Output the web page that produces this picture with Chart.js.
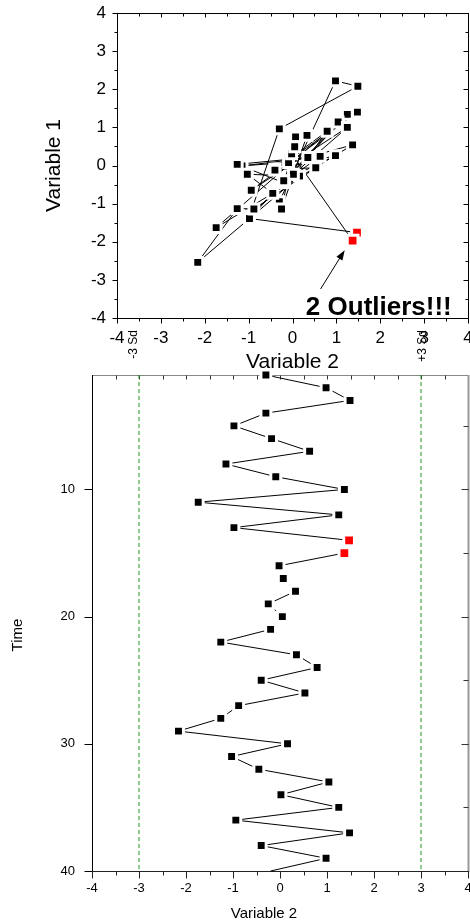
<!DOCTYPE html>
<html>
<head>
<meta charset="utf-8">
<script src="https://cdn.jsdelivr.net/npm/chart.js@4"></script>
<style>
  html, body { margin: 0; padding: 0; background: #fff; }
  #wrap { position: relative; width: 470px; height: 922px; overflow: hidden; }
  .box { position: absolute; left: 0; width: 470px; }
  #top-box { top: 0; height: 380px; }
  #bottom-box { top: 320px; height: 602px; }
</style>
</head>
<body>
<div id="wrap">
  <div class="box" id="top-box"><canvas id="scatter-chart"></canvas></div>
  <div class="box" id="bottom-box"><canvas id="time-chart"></canvas></div>
</div>
<script>
// observations in time order
const time = [1, 2, 3, 4, 5, 6, 7, 8, 9, 10, 11, 12, 13, 14, 15, 16, 17, 18, 19, 20,
              21, 22, 23, 24, 25, 26, 27, 28, 29, 30, 31, 32, 33, 34, 35, 36, 37, 38, 39, 40];
const variable2 = [-0.30, 0.98, 1.49, -0.30, -0.98, -0.18, 0.63, -1.15, -0.09, 1.37,
                   -1.74, 1.25, -0.98, 1.47, 1.37, -0.02, 0.07, 0.33, -0.25, 0.05,
                   -0.20, -1.26, 0.35, 0.79, -0.40, 0.53, -0.88, -1.26, -2.16, 0.16,
                   -1.03, -0.45, 1.04, 0.02, 1.25, -0.94, 1.48, -0.40, 0.98, -0.20];
const variable1 = [-0.95, 2.22, 2.08, 0.96, -1.33, -0.43, 0.24, -0.01, 0.08, 0.54,
                   -1.63, 1.34, -1.39, -1.76, -1.97, 0.31, 0.75, 0.79, -1.14, 0.49,
                   -0.45, 0.03, 0.21, 0.90, -0.10, -0.06, -1.14, -1.13, -2.54, -0.28,
                   -0.23, -0.73, 1.14, -0.23, 1.00, -0.65, 1.40, -0.12, 0.26, -0.40];
const outlierTimes = [14, 15];

// +/- 3 standard deviation limits
const sdLimits = [-3, 3];
const sdLabels = ['-3 Sd', '+3 Sd'];

const timeTicks = [10, 20, 30, 40];

// annotation on the scatter (data units)
const noteText = '2 Outliers!!!';
const notePos = { x: 3.63, y: -3.92 };
const arrowFrom = { x: 0.64, y: -3.24 };
const arrowTo = { x: 1.19, y: -2.22 };

Chart.defaults.font.family = "'Liberation Sans', Arial, sans-serif";
Chart.defaults.color = '#000';
Chart.defaults.animation = false;

const isOutlier = i => outlierTimes.includes(time[i]);
const pointColor = ctx => isOutlier(ctx.dataIndex) ? '#ff0000' : '#000';
const pointSize = ctx => isOutlier(ctx.dataIndex) ? 7.6 : 7;

// box round the plot area with ticks (len > 0 outward, len < 0 inward)
function framePlugin(sides) {
  return {
    id: 'frame',
    beforeDatasetsDraw(chart) {
      const { ctx, chartArea: a, scales } = chart;
      ctx.save();
      sides.forEach(s => {
        const horiz = s.edge === 'top' || s.edge === 'bottom';
        const scale = horiz ? scales.x : scales.y;
        const dir = (s.edge === 'left' || s.edge === 'top') ? -1 : 1;
        const pos = Math.round(a[s.edge]) + 0.5;
        ctx.strokeStyle = s.color;
        ctx.lineWidth = s.width || 1;
        ctx.beginPath();
        if (horiz) { ctx.moveTo(a.left, pos); ctx.lineTo(a.right + 1, pos); }
        else { ctx.moveTo(pos, a.top); ctx.lineTo(pos, a.bottom + 1); }
        ctx.stroke();
        ctx.strokeStyle = s.tickColor || s.color;
        ctx.lineWidth = 1;
        s.ticks.forEach(t => {
          ctx.beginPath();
          for (let v = Math.ceil(scale.min / t.step - 1e-9) * t.step; v <= scale.max + 1e-9; v += t.step) {
            const p = Math.round(scale.getPixelForValue(v)) + 0.5;
            if (horiz) { ctx.moveTo(p, pos); ctx.lineTo(p, pos + dir * t.len); }
            else { ctx.moveTo(pos, p); ctx.lineTo(pos + dir * t.len, p); }
          }
          ctx.stroke();
        });
      });
      ctx.restore();
    }
  };
}

const outlierNote = {
  id: 'outlierNote',
  afterDatasetsDraw(chart) {
    const { ctx, scales: { x, y } } = chart;
    ctx.save();
    ctx.fillStyle = '#000';
    ctx.font = "bold 26px 'Liberation Sans', Arial, sans-serif";
    ctx.textAlign = 'right';
    ctx.textBaseline = 'alphabetic';
    ctx.fillText(noteText, x.getPixelForValue(notePos.x), y.getPixelForValue(notePos.y));

    const x0 = x.getPixelForValue(arrowFrom.x), y0 = y.getPixelForValue(arrowFrom.y);
    const x1 = x.getPixelForValue(arrowTo.x), y1 = y.getPixelForValue(arrowTo.y);
    const ang = Math.atan2(y1 - y0, x1 - x0);
    ctx.strokeStyle = '#000';
    ctx.lineWidth = 1;
    ctx.beginPath();
    ctx.moveTo(x0, y0);
    ctx.lineTo(x1 - 6 * Math.cos(ang), y1 - 6 * Math.sin(ang));
    ctx.stroke();
    ctx.beginPath();
    ctx.moveTo(x1, y1);
    ctx.lineTo(x1 - 10 * Math.cos(ang) + 3.5 * Math.sin(ang), y1 - 10 * Math.sin(ang) - 3.5 * Math.cos(ang));
    ctx.lineTo(x1 - 10 * Math.cos(ang) - 3.5 * Math.sin(ang), y1 - 10 * Math.sin(ang) + 3.5 * Math.cos(ang));
    ctx.closePath();
    ctx.fill();
    ctx.restore();
  }
};

const timeLabels = {
  id: 'timeLabels',
  afterDraw(chart) {
    const { ctx, chartArea: a, scales: { x } } = chart;
    const shift = [-5, 2];
    ctx.save();
    ctx.fillStyle = '#000';
    ctx.font = "12px 'Liberation Sans', Arial, sans-serif";
    ctx.textBaseline = 'middle';
    ctx.textAlign = 'right';
    sdLimits.forEach((v, i) => {
      ctx.save();
      ctx.translate(x.getPixelForValue(v) + shift[i], a.top - 45);
      ctx.rotate(-Math.PI / 2);
      ctx.fillText(sdLabels[i], 0, 0);
      ctx.restore();
    });
    // axis titles
    ctx.font = "15px 'Liberation Sans', Arial, sans-serif";
    ctx.textAlign = 'center';
    ctx.fillText('Variable 2', a.left + 172, chart.height - 8);
    ctx.save();
    ctx.translate(18, a.top + 260);
    ctx.rotate(-Math.PI / 2);
    ctx.fillText('Time', 0, 0);
    ctx.restore();
    ctx.restore();
  }
};

const noGrid = { display: true, color: 'rgba(0,0,0,0)', drawTicks: false };

// scatter of the two variables
new Chart(document.querySelector('#scatter-chart').getContext('2d'), {
  type: 'scatter',
  data: {
    datasets: [{
      data: variable2.map((v, i) => ({ x: v, y: variable1[i] })),
      showLine: true,
      borderColor: '#000',
      borderWidth: 1,
      pointStyle: 'rect',
      pointRadius: pointSize,
      pointBackgroundColor: pointColor,
      pointBorderColor: '#fff',
      pointBorderWidth: 3,
    }]
  },
  options: {
    responsive: true,
    maintainAspectRatio: false,
    layout: { autoPadding: false, padding: { top: 13, right: 2, left: 0, bottom: 0 } },
    plugins: { legend: { display: false }, tooltip: { enabled: false } },
    scales: {
      x: {
        min: -4, max: 4,
        grid: noGrid, border: { display: false },
        ticks: { stepSize: 1, padding: 10, font: { size: 17 }, maxRotation: 0 },
        title: { display: true, text: 'Variable 2', font: { size: 21 }, padding: { top: 0, bottom: 5 } },
        afterFit(s) { s.height = 62; s.paddingLeft = 0; s.paddingRight = 0; }
      },
      y: {
        min: -4, max: 4,
        grid: noGrid, border: { display: false },
        ticks: { stepSize: 1, padding: 11, font: { size: 17 } },
        title: { display: true, text: 'Variable 1', font: { size: 21 }, padding: { top: 42, bottom: 0 } },
        afterFit(s) { s.width = 117; s.paddingTop = 0; s.paddingBottom = 0; }
      }
    }
  },
  plugins: [framePlugin([
    { edge: 'left', color: '#000', ticks: [{ step: 1, len: 5 }, { step: 0.5, len: 3 }] },
    { edge: 'bottom', color: '#000', ticks: [{ step: 1, len: 5 }, { step: 0.5, len: 3 }] },
    { edge: 'top', color: '#000', ticks: [{ step: 1, len: -4 }, { step: 0.5, len: -3 }] },
    { edge: 'right', color: '#000', ticks: [{ step: 1, len: -5 }, { step: 0.5, len: -3 }] },
  ]), outlierNote]
});

// variable 2 against time with the sd limits
new Chart(document.querySelector('#time-chart').getContext('2d'), {
  type: 'scatter',
  data: {
    datasets: [{
      data: variable2.map((v, i) => ({ x: v, y: time[i] })),
      showLine: true,
      clip: false,
      borderColor: '#000',
      borderWidth: 1,
      pointStyle: 'rect',
      pointRadius: ctx => time[ctx.dataIndex] >= 40 ? 0 : pointSize(ctx),
      pointBackgroundColor: pointColor,
      pointBorderColor: '#fff',
      pointBorderWidth: 3,
    }].concat(sdLimits.map(v => ({
      data: [{ x: v, y: time[0] }, { x: v, y: time[time.length - 1] }],
      showLine: true,
      borderColor: '#1f9a1f',
      borderWidth: 1,
      borderDash: [4, 3],
      pointRadius: 0,
    })))
  },
  options: {
    responsive: true,
    maintainAspectRatio: false,
    layout: { autoPadding: false, padding: { top: 55, right: 2, left: 0, bottom: 0 } },
    plugins: { legend: { display: false }, tooltip: { enabled: false } },
    scales: {
      x: {
        min: -4, max: 4,
        grid: noGrid, border: { display: false },
        ticks: { stepSize: 1, padding: 10, font: { size: 13 }, maxRotation: 0 },
        afterFit(s) { s.height = 51; s.paddingLeft = 0; s.paddingRight = 0; }
      },
      y: {
        min: 1, max: 40, reverse: true,
        grid: noGrid, border: { display: false },
        ticks: { padding: 17, font: { size: 13 } },
        afterBuildTicks(s) { s.ticks = timeTicks.map(v => ({ value: v })); },
        afterFit(s) { s.width = 92; s.paddingTop = 0; s.paddingBottom = 0; }
      }
    }
  },
  plugins: [framePlugin([
    { edge: 'top', color: '#888', tickColor: '#333', ticks: [{ step: 0.5, len: -4 }] },
    { edge: 'right', color: '#999', width: 2, tickColor: '#333', ticks: [{ step: 10, len: -7 }, { step: 5, len: -5 }] },
    { edge: 'left', color: '#000', ticks: [{ step: 10, len: 8 }] },
    { edge: 'bottom', color: '#222', ticks: [{ step: 1, len: 7 }, { step: 0.5, len: 4 }] },
  ]), timeLabels]
});
</script>
</body>
</html>
